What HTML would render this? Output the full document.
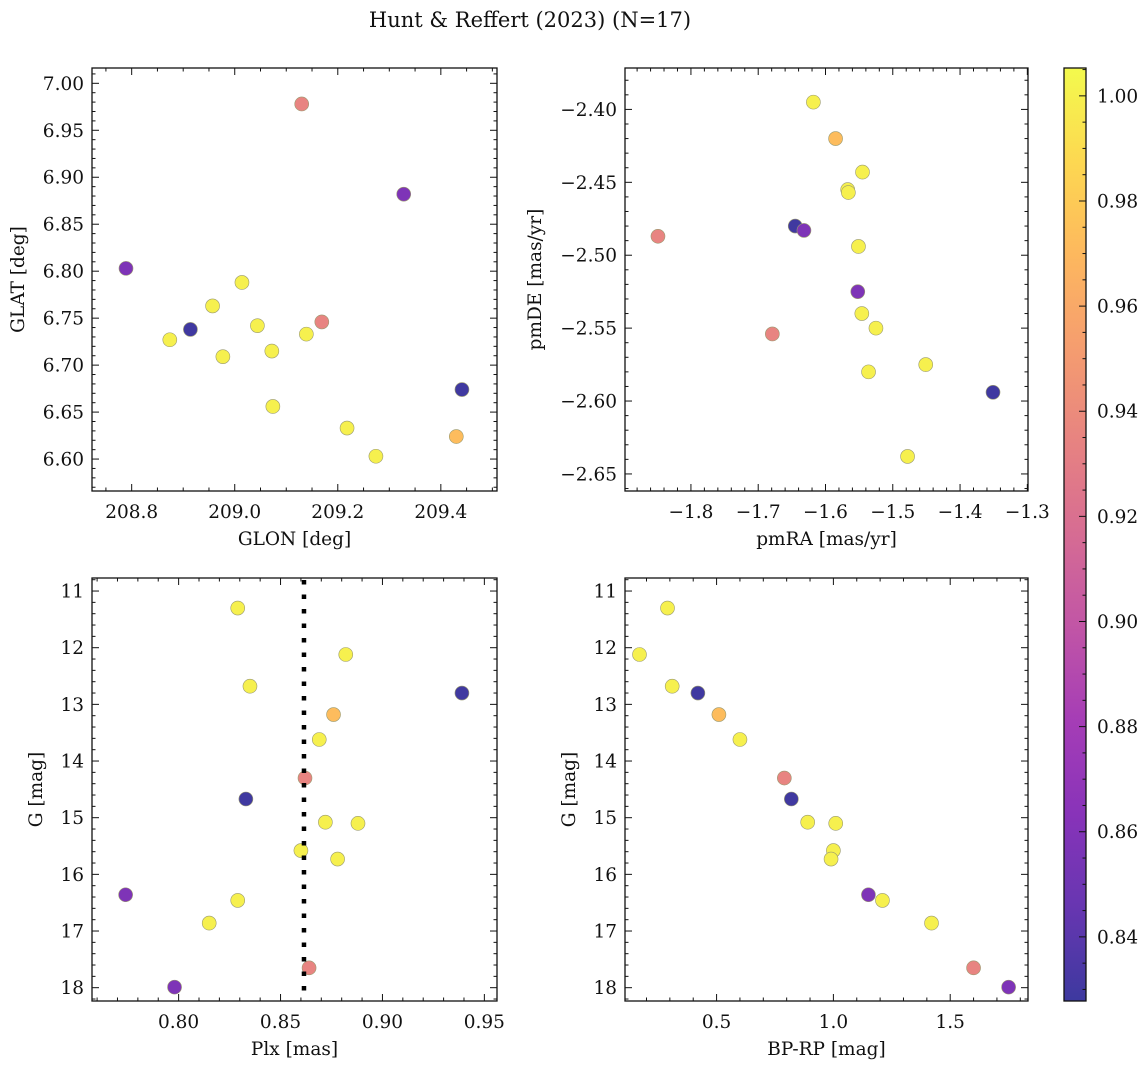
<!DOCTYPE html>
<html><head><meta charset="utf-8"><style>
html,body{margin:0;padding:0;background:#fff;}
svg{display:block;font-family:"DejaVu Serif","Liberation Serif",serif;}
</style></head><body>
<svg id="fig" width="1148" height="1068" viewBox="0 0 1148 1068" xmlns="http://www.w3.org/2000/svg">
<text x="530" y="27" text-anchor="middle" font-size="21" fill="#111">Hunt &amp; Reffert (2023) (N=17)</text>
</svg>
<script>
// Star data (one entry per star)
const glon = [209.014, 208.957, 208.874, 209.441, 209.430, 208.977, 209.130, 208.914, 209.044, 209.072, 209.139, 209.074, 208.789, 209.218, 209.274, 209.169, 209.328];
const glat = [6.788, 6.763, 6.727, 6.674, 6.624, 6.709, 6.978, 6.738, 6.742, 6.715, 6.733, 6.656, 6.803, 6.633, 6.603, 6.746, 6.882];
const pmra = [-1.618, -1.545, -1.567, -1.351, -1.585, -1.566, -1.849, -1.645, -1.551, -1.546, -1.525, -1.451, -1.632, -1.536, -1.478, -1.679, -1.552];
const pmde = [-2.395, -2.443, -2.455, -2.594, -2.420, -2.457, -2.487, -2.480, -2.494, -2.540, -2.550, -2.575, -2.483, -2.580, -2.638, -2.554, -2.525];
const plx = [0.829, 0.882, 0.835, 0.939, 0.876, 0.869, 0.862, 0.833, 0.872, 0.888, 0.860, 0.878, 0.774, 0.829, 0.815, 0.864, 0.798];
const gmag = [11.30, 12.12, 12.68, 12.80, 13.18, 13.62, 14.30, 14.67, 15.08, 15.10, 15.58, 15.73, 16.36, 16.46, 16.86, 17.65, 17.99];
const bprp = [0.29, 0.17, 0.31, 0.42, 0.51, 0.60, 0.79, 0.82, 0.89, 1.01, 1.00, 0.99, 1.15, 1.21, 1.42, 1.60, 1.75];
const prob = [1.0, 1.0, 1.0, 0.829, 0.972, 1.0, 0.935, 0.829, 1.0, 1.0, 1.0, 1.0, 0.858, 1.0, 1.0, 0.935, 0.858];
const plxRef = [0.8615];
const cbarTicks = [0.84, 0.86, 0.88, 0.90, 0.92, 0.94, 0.96, 0.98, 1.00];

const NS = "http://www.w3.org/2000/svg";
const svg = document.getElementById('fig');
function el(tag, attrs, parent) {
  const e = document.createElementNS(NS, tag);
  for (const k in attrs) e.setAttribute(k, attrs[k]);
  (parent || svg).appendChild(e);
  return e;
}
const stops = ["#0d0887","#41049d","#6a00a8","#8f0da4","#b12a90","#cc4778","#e16462","#f2844b","#fca636","#fcce25","#f0f921"];
function hex(h){return [parseInt(h.substr(1,2),16),parseInt(h.substr(3,2),16),parseInt(h.substr(5,2),16)];}
function plasma(t){
  t=Math.max(0,Math.min(1,t));
  const f=t*10, i=Math.min(9,Math.floor(f)), r=f-i;
  const a=hex(stops[i]), b=hex(stops[i+1]);
  const c=a.map((v,k)=>v+(b[k]-v)*r);
  return 'rgb('+c.map(v=>Math.round(v*0.8+255*0.2)).join(',')+')';
}
const vmin = Math.min(...prob), vmax = Math.max(...prob);
function fmt(v, d){ const s=v.toFixed(d); return s.replace('-', '\u2212'); }
const FS = 18.5;

function panel(o){
  const g = el('g', {}, svg);
  
  
  const sx = v => o.x0 + (v - o.xmin) / (o.xmax - o.xmin) * (o.x1 - o.x0);
  const sy = o.yinv ? (v => o.y0 + (v - o.ymin) / (o.ymax - o.ymin) * (o.y1 - o.y0))
                    : (v => o.y1 - (v - o.ymin) / (o.ymax - o.ymin) * (o.y1 - o.y0));
  const tg = el('g', {stroke:'#111','stroke-width':1}, g);
  
  
  const eps=1e-9;
  for (let v = Math.ceil(o.xmin/o.xminor-eps)*o.xminor; v <= o.xmax+eps; v += o.xminor) {
    const X = sx(v), major = Math.abs(v/o.xmajor - Math.round(v/o.xmajor)) < 1e-6;
    const L = major ? 7 : 3.5;
    el('line', {x1:X, x2:X, y1:o.y1, y2:o.y1-L}, tg);
    el('line', {x1:X, x2:X, y1:o.y0, y2:o.y0+L}, tg);
    if (major) {
      const t = el('text', {x:X, y:o.y1+27, 'text-anchor':'middle','font-size':FS, fill:'#111', stroke:'none'}, g);
      t.textContent = fmt(Math.round(v/o.xmajor)*o.xmajor, o.xd);
      
      
    }
  }
  const lo=Math.min(o.ymin,o.ymax), hi=Math.max(o.ymin,o.ymax);
  for (let v = Math.ceil(lo/o.yminor-eps)*o.yminor; v <= hi+eps; v += o.yminor) {
    const Y = sy(v), major = Math.abs(v/o.ymajor - Math.round(v/o.ymajor)) < 1e-6;
    const L = major ? 7 : 3.5;
    el('line', {x1:o.x0, x2:o.x0+L, y1:Y, y2:Y}, tg);
    el('line', {x1:o.x1, x2:o.x1-L, y1:Y, y2:Y}, tg);
    if (major) {
      const t = el('text', {x:o.x0-8, y:Y+6.5, 'text-anchor':'end','font-size':FS, fill:'#111', stroke:'none'}, g);
      t.textContent = fmt(Math.round(v/o.ymajor)*o.ymajor, o.yd);
      
      
    }
  }
  const pg = el('g', {}, g);
  
  
  for (let i = 0; i < o.xs.length; i++) {
    const c = el('circle', {cx:sx(o.xs[i]), cy:sy(o.ys[i]), r:7, fill:plasma((prob[i]-0.8278)/(1.0053-0.8278)), stroke:'#9a9a70','stroke-width':0.6}, pg);
    
    
  }
  if (o.vline) {
    o.vline.forEach(v => {
      const l = el('line', {x1:sx(v), x2:sx(v), y1:o.y0+2, y2:o.y1, stroke:'#000','stroke-width':4.5,'stroke-dasharray':'4.5 10'}, g);
      
      
    });
  }
  const fr = el('rect', {x:o.x0, y:o.y0, width:o.x1-o.x0, height:o.y1-o.y0, fill:'none', stroke:'#111','stroke-width':1.3}, g);
  
  
  const xl = el('text', {x:(o.x0+o.x1)/2, y:o.y1+54, 'text-anchor':'middle','font-size':FS, fill:'#111'}, g);
  xl.textContent = o.xlabel;
  
  
  const yx = o.ylabx, yy = (o.y0+o.y1)/2;
  const yl = el('text', {x:yx, y:yy, 'text-anchor':'middle','font-size':FS, fill:'#111', transform:'rotate(-90 '+yx+' '+yy+')'}, g);
  yl.textContent = o.ylabel;
  
  
}

panel({name:'glon-glat-panel', x0:92, x1:497, y0:68, y1:491, xmin:208.723, xmax:209.509, ymin:6.566, ymax:7.0163,
  xmajor:0.2, xminor:0.05, ymajor:0.05, yminor:0.01, xd:1, yd:2, xs:glon, ys:glat, xlabel:'GLON [deg]', ylabel:'GLAT [deg]', ylabx:24});
panel({name:'pm-panel', x0:625, x1:1028, y0:68, y1:491, xmin:-1.898, xmax:-1.299, ymin:-2.6617, ymax:-2.3716,
  xmajor:0.1, xminor:0.02, ymajor:0.05, yminor:0.01, xd:1, yd:2, xs:pmra, ys:pmde, xlabel:'pmRA [mas/yr]', ylabel:'pmDE [mas/yr]', ylabx:541});
panel({name:'plx-g-panel', x0:92, x1:497, y0:578, y1:1001, xmin:0.7575, xmax:0.9562, ymin:10.77, ymax:18.235, yinv:true,
  xmajor:0.05, xminor:0.01, ymajor:1, yminor:0.2, xd:2, yd:0, xs:plx, ys:gmag, xlabel:'Plx [mas]', ylabel:'G [mag]', ylabx:42, vline:plxRef});
panel({name:'cmd-panel', x0:625, x1:1028, y0:578, y1:1001, xmin:0.108, xmax:1.833, ymin:10.77, ymax:18.235, yinv:true,
  xmajor:0.5, xminor:0.1, ymajor:1, yminor:0.2, xd:1, yd:0, xs:bprp, ys:gmag, xlabel:'BP-RP [mag]', ylabel:'G [mag]', ylabx:575});

(function(){
  const x0=1064, x1=1086, y0=68, y1=1001;
  const cmin=0.8278, cmax=1.0053;
  const g = el('g', {}, svg);
  
  
  const defs = el('defs', {}, g);
  const lg = el('linearGradient', {id:'cb', x1:0, y1:1, x2:0, y2:0}, defs);
  for (let i=0;i<=20;i++){ el('stop', {offset:(i/20), 'stop-color':plasma(i/20)}, lg); }
  el('rect', {x:x0, y:y0, width:x1-x0, height:y1-y0, fill:'url(#cb)'}, g);
  const sy = v => y1 - (v - cmin)/(cmax - cmin)*(y1-y0);
  for (let v = 0.83; v <= cmax+1e-9; v += 0.005) {
    const major = Math.abs(v/0.02 - Math.round(v/0.02)) < 1e-6;
    el('line', {x1:x1, x2:x1-(major?7:3.5), y1:sy(v), y2:sy(v), stroke:'#111','stroke-width':1}, g);
  }
  cbarTicks.forEach(v => {
    const t = el('text', {x:x1+11, y:sy(v)+6.5, 'font-size':FS, fill:'#111'}, g);
    t.textContent = v.toFixed(2);
    
    
  });
  el('rect', {x:x0, y:y0, width:x1-x0, height:y1-y0, fill:'none', stroke:'#111','stroke-width':1.3}, g);
})();
</script>
</body></html>
